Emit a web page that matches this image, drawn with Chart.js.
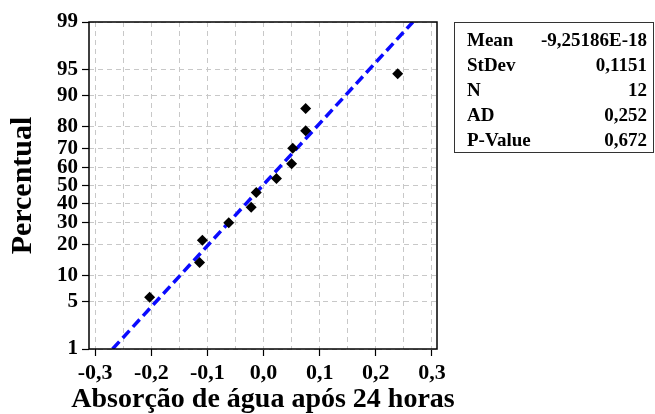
<!DOCTYPE html>
<html lang="pt">
<head>
<meta charset="utf-8">
<script src="https://cdn.jsdelivr.net/npm/chart.js@4.4.1/dist/chart.umd.min.js"></script>
<style>
  html, body { margin: 0; padding: 0; background: #fff; }
  #wrap { position: relative; width: 655px; height: 414px; }
  #stats {
    position: absolute; left: 454px; top: 22px; width: 200px; height: 131px;
    box-sizing: border-box; border: 1px solid #333; padding: 4px 6px 0 12px;
    font: bold 19px "Liberation Serif", "Times New Roman", serif; color: #000;
  }
  #stats table { width: 100%; border-collapse: collapse; }
  #stats td { padding: 0; height: 25px; line-height: 25px; white-space: nowrap; }
  #stats td.v { text-align: right; }
</style>
</head>
<body>
<div id="wrap">
  <canvas id="probPlot" width="655" height="414"></canvas>
  <div id="stats">
    <table>
      <tr><td>Mean</td><td class="v">-9,25186E-18</td></tr>
      <tr><td>StDev</td><td class="v">0,1151</td></tr>
      <tr><td>N</td><td class="v">12</td></tr>
      <tr><td>AD</td><td class="v">0,252</td></tr>
      <tr><td>P-Value</td><td class="v">0,672</td></tr>
    </table>
  </div>
</div>
<script>
// observations (sorted) and their plotting percentiles
const absorcao = [-0.203, -0.114, -0.109, -0.062, -0.022, -0.013, 0.023, 0.050, 0.052, 0.075, 0.075, 0.239];
const percentual = [5.6, 13.7, 21.8, 29.8, 37.9, 46.0, 54.0, 62.1, 70.2, 78.2, 86.3, 94.4];

// fitted normal line, end points at 1% and 99%
const fitX = [-0.269, 0.266];
const fitPct = [1, 99];

const yTicks = [1, 5, 10, 20, 30, 40, 50, 60, 70, 80, 90, 95, 99];
const xTicks = [-0.3, -0.25, -0.2, -0.15, -0.1, -0.05, 0, 0.05, 0.1, 0.15, 0.2, 0.25, 0.3];

const xTitle = "Absorção de água após 24 horas";
const FONT = '"Liberation Serif", "Times New Roman", serif';

// inverse normal CDF (Acklam)
function probit(p) {
    const a = [-39.69683028665376, 220.9460984245205, -275.9285104469687, 138.3577518672690, -30.66479806614716, 2.506628277459239];
    const b = [-54.47609879822406, 161.5858368580409, -155.6989798598866, 66.80131188771972, -13.28068155288572];
    const c = [-0.007784894002430293, -0.3223964580411365, -2.400758277161838, -2.549732539343734, 4.374664141464968, 2.938163982698783];
    const d = [0.007784695709041462, 0.3224671290700398, 2.445134137142996, 3.754408661907416];
    const pl = 0.02425;
    let q, r;
    if (p < pl) {
        q = Math.sqrt(-2 * Math.log(p));
        return (((((c[0] * q + c[1]) * q + c[2]) * q + c[3]) * q + c[4]) * q + c[5]) /
            ((((d[0] * q + d[1]) * q + d[2]) * q + d[3]) * q + 1);
    }
    if (p > 1 - pl) {
        q = Math.sqrt(-2 * Math.log(1 - p));
        return -(((((c[0] * q + c[1]) * q + c[2]) * q + c[3]) * q + c[4]) * q + c[5]) /
            ((((d[0] * q + d[1]) * q + d[2]) * q + d[3]) * q + 1);
    }
    q = p - 0.5;
    r = q * q;
    return (((((a[0] * r + a[1]) * r + a[2]) * r + a[3]) * r + a[4]) * r + a[5]) * q /
        (((((b[0] * r + b[1]) * r + b[2]) * r + b[3]) * r + b[4]) * r + 1);
}

function normCdf(z) {
    const t = 1 / (1 + 0.2316419 * Math.abs(z));
    const y = 0.3989423 * Math.exp(-z * z / 2) *
        t * (0.3193815 + t * (-0.3565638 + t * (1.781478 + t * (-1.821256 + t * 1.330274))));
    return z > 0 ? 1 - y : y;
}

// probability (normal) axis, values given in percent
class ProbitScale extends Chart.LinearScale {
    static id = "probit";
    static defaults = {};

    buildTicks() {
        return yTicks.map((v) => ({ value: v }));
    }

    configure() {
        super.configure();
        this._zMin = probit(this.min / 100);
        this._zMax = probit(this.max / 100);
    }

    getPixelForValue(value) {
        const z = probit(value / 100);
        return this.getPixelForDecimal((z - this._zMin) / (this._zMax - this._zMin));
    }

    getValueForPixel(pixel) {
        const z = this._zMin + this.getDecimalForPixel(pixel) * (this._zMax - this._zMin);
        return normCdf(z) * 100;
    }
}
Chart.register(ProbitScale);

const isMajor = (v) => Math.abs(Math.round(v * 100)) % 10 === 0;

// plot frame, plus the x title (the axis title would get squeezed to the axis width)
const framePlugin = {
    id: "frame",
    afterDraw(chart) {
        const { ctx, chartArea: a } = chart;
        ctx.save();
        ctx.strokeStyle = "#000";
        ctx.lineWidth = 1.5;
        ctx.strokeRect(a.left, a.top, a.right - a.left, a.bottom - a.top);

        ctx.fillStyle = "#000";
        ctx.font = "bold 28px " + FONT;
        ctx.textAlign = "center";
        ctx.textBaseline = "alphabetic";
        ctx.fillText(xTitle, (a.left + a.right) / 2, 407);
        ctx.restore();
    }
};

const gridOpts = {
    color: "#c8c8c8",
    lineWidth: 1,
    tickLength: 7,
    tickWidth: 1.2,
    tickColor: "#000"
};

new Chart(document.getElementById("probPlot"), {
    type: "scatter",
    data: {
        datasets: [
            {
                data: absorcao.map((x, i) => ({ x, y: percentual[i] })),
                pointStyle: "rectRot",
                pointRadius: 5.5,
                backgroundColor: "#000",
                borderColor: "#000",
                borderWidth: 0,
                order: 0
            },
            {
                type: "line",
                data: fitX.map((x, i) => ({ x, y: fitPct[i] })),
                borderColor: "#0a0aff",
                borderWidth: 3.5,
                borderDash: [10, 5],
                pointRadius: 0,
                fill: false,
                order: 1
            }
        ]
    },
    options: {
        responsive: false,
        animation: false,
        devicePixelRatio: 1,
        layout: { padding: { left: 0, top: 22, right: 218, bottom: 0 } },
        plugins: { legend: { display: false }, tooltip: { enabled: false } },
        scales: {
            x: {
                type: "linear",
                min: -0.311,
                max: 0.309,
                afterBuildTicks: (s) => { s.ticks = xTicks.map((v) => ({ value: v })); },
                afterFit: (s) => { s.height = 65; },
                ticks: {
                    autoSkip: false,
                    maxRotation: 0,
                    padding: 4,
                    color: "#000",
                    font: { family: FONT, size: 22, weight: "bold" },
                    callback: (v) => (isMajor(v) ? v.toFixed(1).replace(".", ",") : "")
                },
                grid: {
                    ...gridOpts,
                    tickColor: (ctx) => (ctx.tick && isMajor(ctx.tick.value) ? "#000" : "rgba(0,0,0,0)")
                },
                border: { display: false, dash: [5, 4] },
                title: { display: false }
            },
            y: {
                type: "probit",
                min: 1,
                max: 99,
                afterFit: (s) => { s.width = 89; },
                ticks: {
                    autoSkip: false,
                    padding: 4,
                    color: "#000",
                    font: { family: FONT, size: 21, weight: "bold" },
                    callback: (v) => String(v)
                },
                grid: gridOpts,
                border: { display: false, dash: [5, 4] },
                title: {
                    display: true,
                    text: "Percentual",
                    color: "#000",
                    font: { family: FONT, size: 30, weight: "bold", lineHeight: 0.8 },
                    padding: { top: 11, bottom: 0 }
                }
            }
        }
    },
    plugins: [framePlugin]
});
</script>
</body>
</html>
